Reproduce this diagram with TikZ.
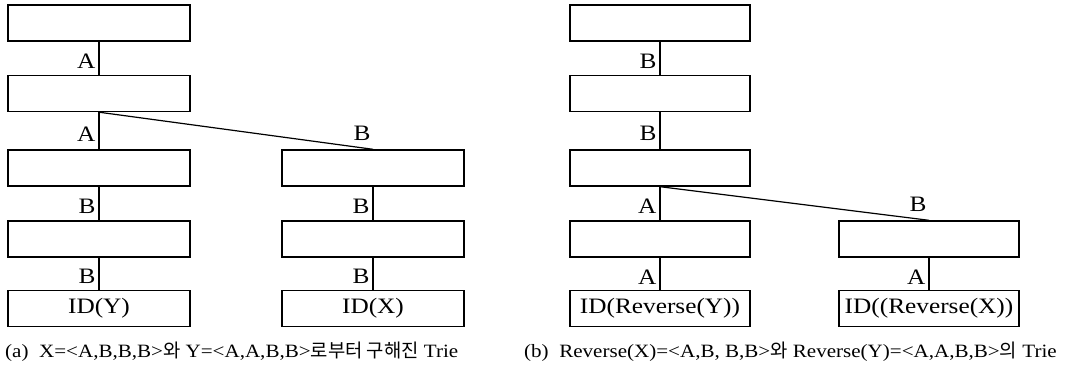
\documentclass[tikz,border=0pt]{standalone}
\usepackage{fontspec}
\setmainfont{Liberation Serif}
\newfontfamily\wide[FakeStretch=1.15]{Liberation Serif}
\newfontfamily\capfont[FakeStretch=1.12]{Liberation Serif}
\newfontfamily\kr{Noto Sans CJK KR}
\begin{document}
\begin{tikzpicture}[x=1pt,y=-1pt,
  box/.style={draw, line width=1.4pt, minimum height=36pt, inner sep=0pt,
    font=\wide\fontsize{22}{22}\selectfont},
  lbox/.style={box, minimum width=182pt},
  rbox/.style={box, minimum width=180pt},
  lab/.style={font=\wide\fontsize{22}{22}\selectfont, inner sep=0pt},
  edge/.style={line width=1.2pt},
  elab/.style={lab, midway, anchor=east, xshift=-3pt, yshift=-3pt},
  dlab/.style={lab, at end, anchor=south, xshift=-11pt, yshift=8pt},
  captext/.style={anchor=base west, inner sep=0pt, font=\capfont\fontsize{18.8}{18.8}\selectfont}]
\useasboundingbox (0,0) rectangle (1068,374);
% (a)
\node[lbox] (a1) at (99,23) {};
\node[lbox] (a2) at (99,93.5) {};
\node[lbox] (a3) at (99,168) {};
\node[lbox] (a4) at (99,239) {};
\node[lbox] (a5) at (99,308.5) {ID(Y)};
\node[lbox] (b3) at (373,168) {};
\node[lbox] (b4) at (373,239) {};
\node[lbox] (b5) at (373,308.5) {ID(X)};
\draw[edge] (a1) -- node[elab] {A} (a2);
\draw[edge] (a2) -- node[elab] {A} (a3);
\draw[edge] (a3) -- node[elab] {B} (a4);
\draw[edge] (a4) -- node[elab] {B} (a5);
\draw[edge] (a2.south) -- node[dlab] {B} (b3.north);
\draw[edge] (b3) -- node[elab] {B} (b4);
\draw[edge] (b4) -- node[elab] {B} (b5);
% (b)
\node[rbox] (c1) at (660,23) {};
\node[rbox] (c2) at (660,93.5) {};
\node[rbox] (c3) at (660,168) {};
\node[rbox] (c4) at (660,239) {};
\node[rbox] (c5) at (660,308.5) {ID(Reverse(Y))};
\node[rbox] (d4) at (929,239) {};
\node[rbox] (d5) at (929,308.5) {ID((Reverse(X))};
\draw[edge] (c1) -- node[elab] {B} (c2);
\draw[edge] (c2) -- node[elab] {B} (c3);
\draw[edge] (c3) -- node[elab] {A} (c4);
\draw[edge] (c4) -- node[elab] {A} (c5);
\draw[edge] (c3.south) -- node[dlab] {B} (d4.north);
\draw[edge] (d4) -- node[elab] {A} (d5);
% captions
\node[captext] (capa) at (5,357) {(a)\ \ X=<A,B,B,B>{\kr 와} Y=<A,A,B,B>{\kr 로부터 구해진} Trie};
\node[captext] (capb) at (524,357) {(b)\ \ Reverse(X)=<A,B, B,B>{\kr 와} Reverse(Y)=<A,A,B,B>{\kr 의} Trie};
\end{tikzpicture}
\end{document}
